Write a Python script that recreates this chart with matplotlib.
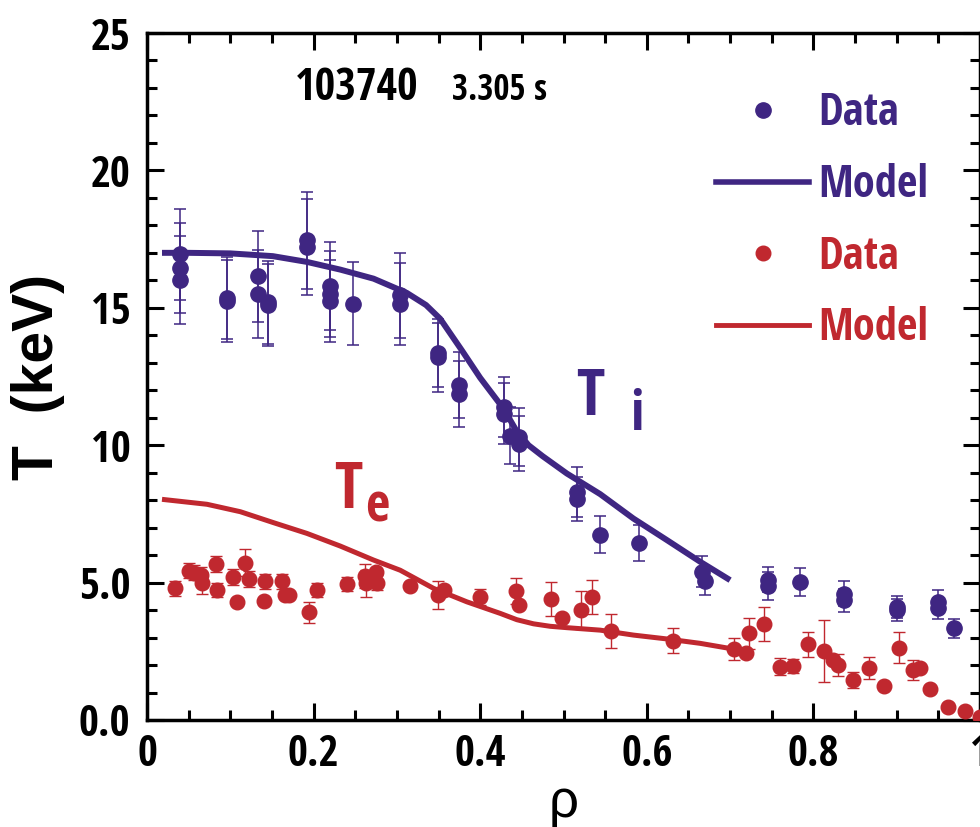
import numpy as np
import matplotlib
matplotlib.use("Agg")
import matplotlib.pyplot as plt
from matplotlib.lines import Line2D
from matplotlib.ticker import MultipleLocator
from matplotlib import font_manager
from matplotlib.font_manager import FontProperties

# ion temperature data: rho, T (keV), error
ti_rho = [0.040, 0.040, 0.040, 0.096, 0.096, 0.133, 0.133, 0.145, 0.145, 0.192,
          0.192, 0.220, 0.220, 0.220, 0.247, 0.304, 0.304, 0.349, 0.349, 0.374,
          0.374, 0.429, 0.429, 0.436, 0.447, 0.447, 0.516, 0.516, 0.544, 0.591,
          0.666, 0.670, 0.745, 0.745, 0.784, 0.837, 0.837, 0.900, 0.900, 0.949,
          0.949, 0.969]
ti_T = [16.95, 16.45, 16.0, 15.35, 15.25, 16.15, 15.5, 15.2, 15.1, 17.45,
        17.2, 15.8, 15.5, 15.25, 15.15, 15.45, 15.13, 13.35, 13.2, 12.2,
        11.85, 11.4, 11.15, 10.35, 10.3, 10.05, 8.3, 8.05, 6.75, 6.45,
        5.4, 5.05, 5.1, 4.87, 5.03, 4.6, 4.36, 4.12, 4.0, 4.3,
        4.06, 3.33]
ti_err = [1.65, 1.65, 1.6, 1.5, 1.5, 1.65, 1.6, 1.5, 1.5, 1.75,
          1.75, 1.6, 1.55, 1.5, 1.5, 1.55, 1.5, 1.25, 1.25, 1.2,
          1.2, 1.1, 1.1, 1.05, 1.05, 1.0, 0.9, 0.8, 0.68, 0.65,
          0.55, 0.5, 0.45, 0.5, 0.5, 0.45, 0.42, 0.4, 0.4, 0.42,
          0.38, 0.35]

# electron temperature data
te_rho = [0.034, 0.050, 0.056, 0.065, 0.066, 0.083, 0.084, 0.103, 0.108, 0.118,
          0.122, 0.140, 0.142, 0.162, 0.166, 0.171, 0.195, 0.204, 0.240, 0.262,
          0.263, 0.275, 0.276, 0.316, 0.349, 0.356, 0.400, 0.443, 0.447, 0.485,
          0.498, 0.521, 0.534, 0.557, 0.631, 0.705, 0.719, 0.723, 0.741, 0.760,
          0.775, 0.794, 0.813, 0.823, 0.830, 0.848, 0.867, 0.885, 0.903, 0.920,
          0.928, 0.940, 0.961, 0.982, 1.000]
te_T = [4.79, 5.43, 5.36, 5.27, 5.0, 5.67, 4.73, 5.21, 4.28, 5.73,
        5.13, 4.34, 5.05, 5.05, 4.55, 4.55, 3.92, 4.73, 4.95, 5.24,
        4.97, 5.4, 5.0, 4.88, 4.55, 4.73, 4.48, 4.7, 4.18, 4.4,
        3.72, 4.0, 4.48, 3.24, 2.88, 2.6, 2.45, 3.15, 3.48, 1.94,
        1.97, 2.76, 2.51, 2.2, 2.0, 1.45, 1.88, 1.24, 2.63, 1.82,
        1.9, 1.13, 0.46, 0.33, 0.12]
te_err = [0.28, 0.28, 0.28, 0.28, 0.4, 0.3, 0.27, 0.28, 0.0, 0.5,
          0.28, 0.0, 0.27, 0.27, 0.0, 0.0, 0.38, 0.27, 0.25, 0.45,
          0.5, 0.0, 0.28, 0.0, 0.5, 0.0, 0.3, 0.48, 0.0, 0.62,
          0.0, 0.68, 0.62, 0.62, 0.45, 0.4, 0.0, 0.55, 0.62, 0.3,
          0.25, 0.45, 1.13, 0.0, 0.4, 0.3, 0.4, 0.0, 0.57, 0.35,
          0.0, 0.0, 0.0, 0.0, 0.0]

# model curves
ti_mod_rho = [0.018, 0.05, 0.10, 0.151, 0.192, 0.232, 0.272, 0.312, 0.335, 0.352,
              0.378, 0.40, 0.428, 0.443, 0.458, 0.475, 0.504, 0.544, 0.584, 0.624,
              0.664, 0.70]
ti_mod_T = [17.0, 17.0, 16.98, 16.88, 16.67, 16.39, 16.06, 15.54, 15.1, 14.6,
            13.45, 12.45, 11.33, 10.55, 10.0, 9.6, 8.97, 8.22, 7.33, 6.55,
            5.76, 5.09]
te_mod_rho = [0.018, 0.072, 0.112, 0.152, 0.192, 0.232, 0.272, 0.304, 0.344, 0.384,
              0.424, 0.444, 0.464, 0.484, 0.504, 0.544, 0.584, 0.624, 0.664, 0.71]
te_mod_T = [8.03, 7.85, 7.58, 7.18, 6.79, 6.33, 5.82, 5.45, 4.79, 4.3,
            3.88, 3.65, 3.5, 3.41, 3.36, 3.27, 3.09, 2.95, 2.79, 2.55]

yticks = [0, 5, 10, 15, 20, 25]
ytick_labels = ["0.0", "5.0", "10", "15", "20", "25"]
xticks = [0, 0.2, 0.4, 0.6, 0.8, 1.0]
xtick_labels = ["0", "0.2", "0.4", "0.6", "0.8", "1"]

blue = "#3f2682"
red = "#c0282f"


# look for a narrow / condensed bold face
def find_narrow():
    best = None
    order = ["Liberation Sans Narrow", "Noto Sans", "Open Sans", "Roboto",
             "DejaVu Sans", "Liberation Sans", "Lato", "Inter"]
    for f in font_manager.fontManager.ttflist:
        st = f.stretch
        cond = ("Narrow" in f.name or "Condensed" in f.name
                or "Condensed" in f.fname or "Narrow" in f.fname
                or (isinstance(st, str) and st in ("condensed", "semi-condensed"))
                or (isinstance(st, int) and 300 <= st < 500))
        if "Extra" in f.fname or "Ultra" in f.fname:
            cond = False
        w = f.weight
        bold = (w == "bold") or (isinstance(w, int) and w == 700)
        if "Italic" in f.fname or "Oblique" in f.fname:
            continue
        if cond and bold:
            base = next((i for i, n in enumerate(order) if f.name.startswith(n)), 99)
            if best is None or base < best[0]:
                best = (base, f.fname)
    return best[1] if best else None


nfile = find_narrow()


def nfont(size):
    if nfile:
        return FontProperties(fname=nfile, size=size)
    return FontProperties(family=["Liberation Sans", "DejaVu Sans"], weight="bold", size=size * 0.85)


fig = plt.figure(figsize=(9.8, 8.27), dpi=100)
ax = fig.add_axes([147 / 980, 1 - 720 / 827, (980 - 147) / 980, (720 - 33) / 827])

ax.plot(ti_mod_rho, ti_mod_T, color=blue, lw=4.3, zorder=2, solid_capstyle="butt")
ax.plot(te_mod_rho, te_mod_T, color=red, lw=3.6, zorder=2, solid_capstyle="butt")

ax.errorbar(ti_rho, ti_T, yerr=ti_err, fmt="o", color=blue, ms=11, mec=blue,
            elinewidth=1.1, capsize=4, capthick=1.1, zorder=3)
ax.errorbar(te_rho, te_T, yerr=te_err, fmt="o", color=red, ms=10.5, mec=red,
            elinewidth=1.0, capsize=4, capthick=1.0, zorder=3)

ax.set_xlim(0, 1)
ax.set_ylim(0, 25)
ax.set_xticks(xticks)
ax.set_xticklabels(xtick_labels, fontproperties=nfont(31))
ax.set_yticks(yticks)
ax.set_yticklabels(ytick_labels, fontproperties=nfont(31))
ax.xaxis.set_minor_locator(MultipleLocator(0.05))
ax.yaxis.set_minor_locator(MultipleLocator(1))
ax.tick_params(which="both", direction="in", top=True, right=True, width=2.2)
ax.tick_params(which="major", length=12)
ax.tick_params(which="minor", length=7)
ax.tick_params(axis="y", pad=12)
ax.tick_params(axis="x", pad=9)
for s in ax.spines.values():
    s.set_linewidth(2.5)

ax.set_xlabel("ρ", fontsize=38, family=["Liberation Sans", "DejaVu Sans"], labelpad=2)
ax.set_ylabel("T  (keV)", fontsize=41, weight="bold", family=["Liberation Sans", "DejaVu Sans"])
ax.yaxis.set_label_coords(-0.098, 0.5)

ax.text(0.178, 22.55, "103740", fontproperties=nfont(32))
ax.text(0.366, 22.55, "3.305 s", fontproperties=nfont(25))

ax.text(0.515, 11.09, "T", color=blue, fontproperties=nfont(47))
ax.text(0.580, 10.55, "i", color=blue, fontproperties=nfont(40))
ax.text(0.2245, 7.71, "T", color=red, fontproperties=nfont(47))
ax.text(0.262, 7.24, "e", color=red, fontproperties=nfont(38))

handles = [
    Line2D([], [], ls="none", marker="o", color=blue, ms=11),
    Line2D([], [], color=blue, lw=4),
    Line2D([], [], ls="none", marker="o", color=red, ms=10.5),
    Line2D([], [], color=red, lw=3.5),
]
labels = ["Data", "Model", "Data", "Model"]
leg = ax.legend(handles, labels, loc="upper left", bbox_to_anchor=(0.683, 0.915),
                frameon=False, borderpad=0, handlelength=2.1, handletextpad=0.2,
                labelspacing=0.6, borderaxespad=0, prop=nfont(32))
for t, c in zip(leg.get_texts(), [blue, blue, red, red]):
    t.set_color(c)

fig.savefig("out.png", dpi=100)
